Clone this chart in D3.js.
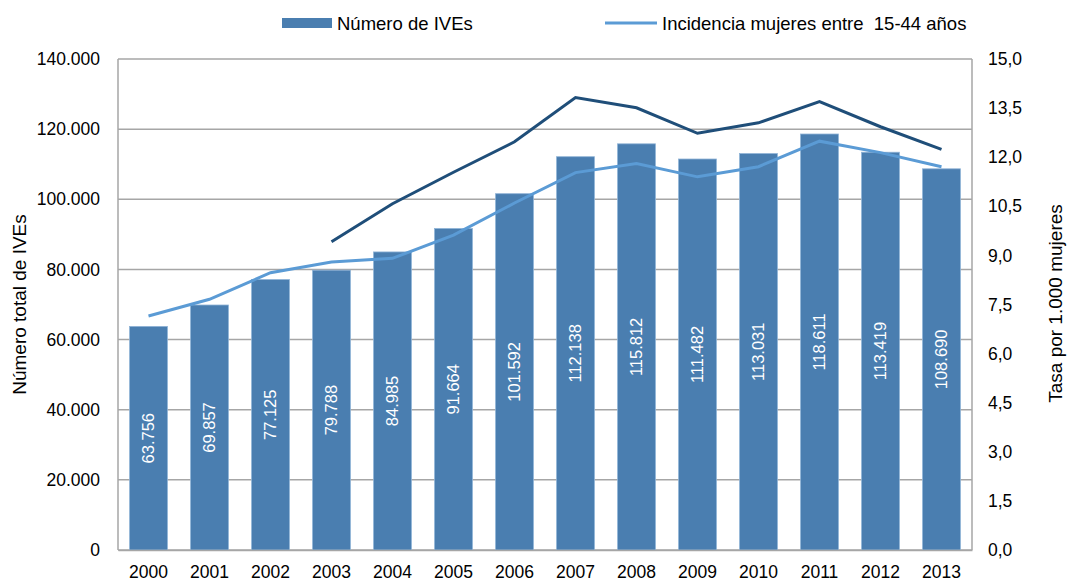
<!DOCTYPE html>
<html>
<head>
<meta charset="utf-8">
<script src="https://cdn.jsdelivr.net/npm/d3@7"></script>
<style>
  body { margin: 0; background: #fff; }
  text { font-family: "Liberation Sans", Arial, sans-serif; fill: #000; }
</style>
</head>
<body>
<div id="chart"></div>
<script>
// data
let years = ['2000', '2001', '2002', '2003', '2004', '2005', '2006', '2007',
  '2008', '2009', '2010', '2011', '2012', '2013'];
let ives = [63756, 69857, 77125, 79788, 84985, 91664, 101592, 112138,
  115812, 111482, 113031, 118611, 113419, 108690];
// incidencia 15-44 (light line)
let incidencia = [7.15, 7.66, 8.47, 8.80, 8.91, 9.62, 10.6, 11.53,
  11.81, 11.40, 11.71, 12.49, 12.14, 11.71];
// dark line, starts in 2003
let tasaOtra = [null, null, null, 9.42, 10.58, 11.54, 12.47, 13.82,
  13.51, 12.73, 13.05, 13.70, 12.93, 12.24];
let leftTicks = [0, 20000, 40000, 60000, 80000, 100000, 120000, 140000];
let rightTicks = [0, 1.5, 3, 4.5, 6, 7.5, 9, 10.5, 12, 13.5, 15];

let width = 1068, height = 582;
let margin = { top: 59, left: 118, right: 96, bottom: 32 };

let svg = d3.select('#chart')
  .append('svg')
  .attr('width', width)
  .attr('height', height);

let xScale = d3.scaleBand()
  .domain(years)
  .range([margin.left, width - margin.right])
  .paddingInner(0.38)
  .paddingOuter(0.19);

let yLeft = d3.scaleLinear()
  .domain([0, 140000])
  .range([height - margin.bottom, margin.top]);

let yRight = d3.scaleLinear()
  .domain([0, 15])
  .range([height - margin.bottom, margin.top]);

let fmtLeft = v => d3.format(',')(v).replace(/,/g, '.');
let fmtRight = v => d3.format('.1f')(v).replace('.', ',');

// gridlines
let grid = '#a6a6a6';
svg.append('g')
  .selectAll('line')
  .data(leftTicks)
  .join('line')
    .attr('x1', margin.left)
    .attr('x2', width - margin.right)
    .attr('y1', d => yLeft(d))
    .attr('y2', d => yLeft(d))
    .style('stroke', grid)
    .style('stroke-width', 1.5);

// plot frame sides
svg.append('line')
  .attr('x1', margin.left).attr('x2', margin.left)
  .attr('y1', margin.top).attr('y2', height - margin.bottom)
  .style('stroke', grid).style('stroke-width', 1.5);
svg.append('line')
  .attr('x1', width - margin.right).attr('x2', width - margin.right)
  .attr('y1', margin.top).attr('y2', height - margin.bottom)
  .style('stroke', grid).style('stroke-width', 1.5);

// bars
svg.append('g')
  .selectAll('rect')
  .data(ives)
  .join('rect')
    .attr('x', (d, i) => xScale(years[i]))
    .attr('y', d => yLeft(d))
    .attr('width', xScale.bandwidth())
    .attr('height', d => yLeft(0) - yLeft(d))
    .style('fill', '#4a7eb0')
    .style('stroke', '#8fb3d6')
    .style('stroke-width', 0.8);

// bar labels
svg.append('g')
  .selectAll('text')
  .data(ives)
  .join('text')
    .attr('transform', (d, i) => {
      let cx = xScale(years[i]) + xScale.bandwidth() / 2;
      let cy = (yLeft(d) + yLeft(0)) / 2;
      return 'translate(' + cx + ',' + cy + ') rotate(-90)';
    })
    .attr('text-anchor', 'middle')
    .attr('dy', '0.35em')
    .style('fill', '#fff')
    .style('font-size', '16.5px')
    .text(d => fmtLeft(d));

// lines
let lineFor = scale => d3.line()
  .defined(d => d != null)
  .x((d, i) => xScale(years[i]) + xScale.bandwidth() / 2)
  .y(d => scale(d));

svg.append('path')
  .attr('d', lineFor(yRight)(tasaOtra))
  .style('fill', 'none')
  .style('stroke', '#1f4e79')
  .style('stroke-width', 3);

svg.append('path')
  .attr('d', lineFor(yRight)(incidencia))
  .style('fill', 'none')
  .style('stroke', '#5b9bd5')
  .style('stroke-width', 3);

// axes
let leftAxis = svg.append('g')
  .attr('transform', 'translate(' + (margin.left - 18) + ',0)')
  .call(d3.axisLeft(yLeft).tickValues(leftTicks).tickFormat(fmtLeft).tickSize(0));
leftAxis.select('.domain').remove();
leftAxis.selectAll('text').style('font-size', '17.5px').attr('x', 0);

let rightAxis = svg.append('g')
  .attr('transform', 'translate(' + (width - margin.right + 16) + ',0)')
  .call(d3.axisRight(yRight).tickValues(rightTicks).tickFormat(fmtRight).tickSize(0));
rightAxis.select('.domain').remove();
rightAxis.selectAll('text').style('font-size', '17.5px').attr('x', 0);

let xAxis = svg.append('g')
  .attr('transform', 'translate(0,' + (height - margin.bottom) + ')')
  .call(d3.axisBottom(xScale).tickSize(0));
xAxis.select('.domain').style('stroke', grid).style('stroke-width', 1.5);
xAxis.selectAll('text').style('font-size', '17.5px').attr('y', 16);

// axis titles
let midY = margin.top + (height - margin.top - margin.bottom) / 2;
svg.append('text')
  .attr('transform', 'translate(19,' + midY + ') rotate(-90)')
  .attr('text-anchor', 'middle')
  .attr('dy', '0.35em')
  .style('font-size', '19px')
  .text('Número total de IVEs');

svg.append('text')
  .attr('transform', 'translate(1055,' + (midY - 1) + ') rotate(-90)')
  .attr('text-anchor', 'middle')
  .attr('dy', '0.35em')
  .style('font-size', '19px')
  .text('Tasa por 1.000 mujeres');

// legend
let legend = svg.append('g');
legend.append('rect')
  .attr('x', 282).attr('y', 18).attr('width', 50).attr('height', 10)
  .style('fill', '#4a7eb0');
legend.append('text')
  .attr('x', 337).attr('y', 24).attr('dy', '0.35em')
  .style('font-size', '18.5px')
  .text('Número de IVEs');
legend.append('line')
  .attr('x1', 605).attr('x2', 657).attr('y1', 23).attr('y2', 23)
  .style('stroke', '#5b9bd5').style('stroke-width', 3);
legend.append('text')
  .attr('x', 662).attr('y', 24).attr('dy', '0.35em')
  .style('font-size', '18.5px')
  .style('white-space', 'pre')
  .text('Incidencia mujeres entre  15-44 años');
</script>
</body>
</html>
